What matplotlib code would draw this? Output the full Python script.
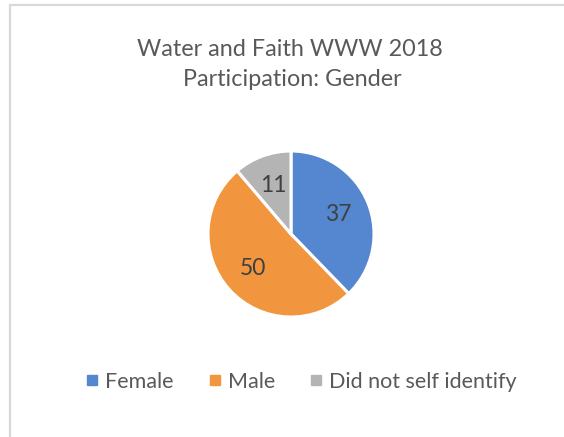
import matplotlib.pyplot as plt
from matplotlib.lines import Line2D
from matplotlib.patches import Rectangle

# data
categories = ['Female', 'Male', 'Did not self identify']
counts = [37, 50, 11]
colors = ['#5586D0', '#F2953F', '#B4B4B4']

plt.rcParams['font.family'] = ['Lato', 'DejaVu Sans']
txt = '#595959'

W, H = 564, 437
fig = plt.figure(figsize=(W / 100, H / 100), dpi=100)
ax = fig.add_axes([0, 0, 1, 1])
ax.set_xlim(0, W)
ax.set_ylim(0, H)
ax.set_aspect('equal')
ax.axis('off')

# chart border (light gray, cut at right/bottom)
ax.add_patch(Rectangle((9.5, -10), W + 20, H - 4.5 + 10, fill=False,
                       edgecolor='#D9D9D9', linewidth=1.6))

total = sum(counts)
wedges, _, autotexts = ax.pie(
    counts, colors=colors, startangle=90, counterclock=False,
    center=(291, H - 234), radius=83, frame=True,
    wedgeprops=dict(edgecolor='white', linewidth=2.2),
    autopct=lambda p: '{:.0f}'.format(p * total / 100), pctdistance=0.62,
    textprops=dict(color='#404040', fontsize=16.5))
ax.set_xlim(0, W)
ax.set_ylim(0, H)
ax.axis('off')

fig.text(290 / W, 1 - 49 / H, 'Water and Faith WWW 2018', ha='center', va='center',
         fontsize=16.8, color=txt)
fig.text(292 / W, 1 - 80 / H, 'Participation: Gender', ha='center', va='center',
         fontsize=16.8, color=txt)

handles = [Line2D([], [], marker='s', linestyle='none', markersize=6.5,
                  markerfacecolor=c, markeredgecolor=c) for c in colors]
fig.legend(handles, categories, loc='center', bbox_to_anchor=(300 / W, 1 - 382 / H),
           ncol=3, frameon=False, fontsize=15.5, labelcolor=txt,
           handletextpad=0.2, columnspacing=1.5, handlelength=0.8)

fig.savefig('out.png', dpi=100)
